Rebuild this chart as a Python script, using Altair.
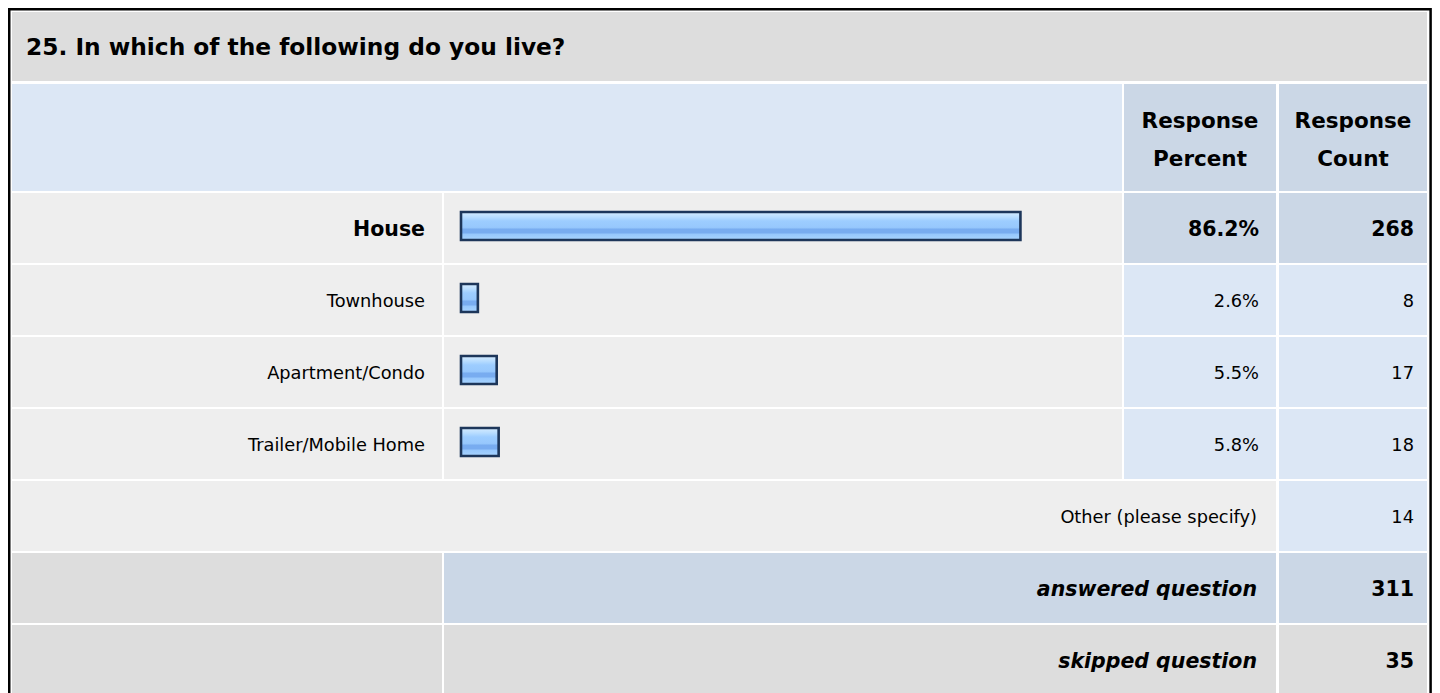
import altair as alt
import pandas as pd

# ---- data ----
question = "25. In which of the following do you live?"
categories = ["House", "Townhouse", "Apartment/Condo", "Trailer/Mobile Home"]
percents = [86.2, 2.6, 5.5, 5.8]
counts = [268, 8, 17, 18]
other_label = "Other (please specify)"
other_count = 14
answered_label = "answered question"
answered_count = 311
skipped_label = "skipped question"
skipped_count = 35
header_cols = [["Response", "Percent"], ["Response", "Count"]]

# ---- layout (screen pixels) ----
W, H = 1424, 685
OX, OY = 8, 8
FONT = "DejaVu Sans"
GRAY, LIGHT, BLUE1, BLUE2 = "#dddddd", "#eeeeee", "#dce7f5", "#cbd7e6"

L = (12, 442)
B = (444, 1122)
P = (1124, 1276)
C = (1279, 1427)
TITLE_ROW = (12, 81)
HEAD_ROW = (84, 191)
ROW0, ROWSTEP, ROWH = 193, 72, 70


def row(i):
    return (ROW0 + i * ROWSTEP, ROW0 + i * ROWSTEP + ROWH)


xs = alt.Scale(domain=[OX, OX + W], range=[0, W], nice=False, zero=False)
ys = alt.Scale(domain=[OY, OY + H], range=[0, H], nice=False, zero=False)

# ---- cells ----
cells = []


def cell(x, y, fill):
    cells.append(dict(x=x[0], x2=x[1], y=y[0], y2=y[1], fill=fill))


cell((L[0], C[1]), TITLE_ROW, GRAY)
cell((L[0], B[1]), HEAD_ROW, BLUE1)
cell(P, HEAD_ROW, BLUE2)
cell(C, HEAD_ROW, BLUE2)
imax = percents.index(max(percents))
for i, cat in enumerate(categories):
    r = row(i)
    cell(L, r, LIGHT)
    cell(B, r, LIGHT)
    hl = BLUE2 if i == imax else BLUE1
    cell(P, r, hl)
    cell(C, r, hl)
n = len(categories)
cell((L[0], P[1]), row(n), LIGHT)
cell(C, row(n), BLUE1)
cell(L, row(n + 1), GRAY)
cell((B[0], P[1]), row(n + 1), BLUE2)
cell(C, row(n + 1), BLUE2)
cell(L, row(n + 2), GRAY)
cell((B[0], P[1]), row(n + 2), GRAY)
cell(C, row(n + 2), GRAY)
cells_df = pd.DataFrame(cells)

cells_layer = alt.Chart(cells_df).mark_rect().encode(
    x=alt.X("x:Q", scale=xs, axis=None),
    x2="x2:Q",
    y=alt.Y("y:Q", scale=ys, axis=None),
    y2="y2:Q",
    fill=alt.Fill("fill:N", scale=None),
)

border_df = pd.DataFrame([dict(x=9.25, x2=1430.6, y=9.25, y2=720)])
border_layer = alt.Chart(border_df).mark_rect(
    fill=None, stroke="#000000", strokeWidth=2.5, clip=True
).encode(
    x=alt.X("x:Q", scale=xs, axis=None),
    x2="x2:Q",
    y=alt.Y("y:Q", scale=ys, axis=None),
    y2="y2:Q",
)

# ---- texts ----
texts = []
TY = 2
texts.append(dict(x=26, y=(TITLE_ROW[0] + TITLE_ROW[1]) / 2 + 1, text=question, st="title"))
for (a, b), col in zip(header_cols, [P, C]):
    cx = (col[0] + col[1]) / 2
    texts.append(dict(x=cx, y=122, text=a, st="header"))
    texts.append(dict(x=cx, y=160, text=b, st="header"))
for i, (cat, p, c) in enumerate(zip(categories, percents, counts)):
    r = row(i)
    cy = (r[0] + r[1]) / 2 + TY
    st = "bold" if i == imax else "normal"
    texts.append(dict(x=425, y=cy, text=cat, st=st))
    texts.append(dict(x=1259, y=cy, text=f"{p:.1f}%", st=st))
    texts.append(dict(x=1414, y=cy, text=str(c), st=st))
r = row(n)
cy = (r[0] + r[1]) / 2 + TY
texts.append(dict(x=1257, y=cy, text=other_label, st="normal"))
texts.append(dict(x=1414, y=cy, text=str(other_count), st="normal"))
for k, (lab, cnt) in enumerate([(answered_label, answered_count), (skipped_label, skipped_count)]):
    r = row(n + 1 + k)
    cy = (r[0] + r[1]) / 2 + TY
    texts.append(dict(x=1257, y=cy, text=lab, st="ital"))
    texts.append(dict(x=1414, y=cy, text=str(cnt), st="bold"))
texts_df = pd.DataFrame(texts)

styles = {
    "title": dict(align="left", fontWeight="bold", fontSize=23.3),
    "header": dict(align="center", fontWeight="bold", fontSize=21.5),
    "normal": dict(align="right", fontWeight="normal", fontSize=17.8),
    "bold": dict(align="right", fontWeight="bold", fontSize=20.5),
    "ital": dict(align="right", fontWeight="bold", fontStyle="italic", fontSize=20.5),
}
text_layers = []
for st, props in styles.items():
    text_layers.append(
        alt.Chart(texts_df)
        .transform_filter(alt.datum.st == st)
        .mark_text(font=FONT, color="#000000", baseline="middle", **props)
        .encode(
            x=alt.X("x:Q", scale=xs, axis=None),
            y=alt.Y("y:Q", scale=ys, axis=None),
            text="text:N",
        )
    )

# ---- bars ----
BAR_X0 = 461
PX_PER_PCT = 6.49
bars_df = pd.DataFrame(
    dict(
        category=categories,
        pct=percents,
        zero=[0] * n,
        top=[row(i)[0] + 19 for i in range(n)],
        bot=[row(i)[0] + 47 for i in range(n)],
    )
)
bscale = alt.Scale(
    domain=[0, 100],
    range=[BAR_X0 - OX, BAR_X0 - OX + 100 * PX_PER_PCT],
    nice=False,
    zero=True,
)
grad = alt.Gradient(
    gradient="linear",
    x1=0, x2=0, y1=0, y2=1,
    stops=[
        alt.GradientStop(offset=0.0, color="#d6ecff"),
        alt.GradientStop(offset=0.18, color="#b8ddff"),
        alt.GradientStop(offset=0.32, color="#9dcdff"),
        alt.GradientStop(offset=0.55, color="#97c8fd"),
        alt.GradientStop(offset=0.62, color="#78acf0"),
        alt.GradientStop(offset=0.74, color="#78acf0"),
        alt.GradientStop(offset=0.80, color="#97c8fd"),
        alt.GradientStop(offset=1.0, color="#a8d4ff"),
    ],
)
bar_enc = dict(
    x=alt.X("zero:Q", scale=bscale, axis=None),
    x2="pct:Q",
    y=alt.Y("top:Q", scale=ys, axis=None),
    y2="bot:Q",
)
shadow_layer = alt.Chart(bars_df).mark_rect(
    fill="#8a96a6", opacity=0.8, xOffset=1.5, yOffset=1.5
).encode(**bar_enc)
bar_layer = alt.Chart(bars_df).mark_rect(
    fill=grad, stroke="#1d365a", strokeWidth=2.6
).encode(**bar_enc)

chart = (
    alt.layer(cells_layer, shadow_layer, bar_layer, *text_layers, border_layer)
    .resolve_scale(x="independent", y="shared")
    .properties(
        width=W,
        height=H,
        padding=0,
        autosize=alt.AutoSizeParams(type="none"),
        background="#ffffff",
    )
    .configure_view(stroke=None, strokeWidth=0)
)

chart.save("out.html", embed_options={"renderer": "svg", "actions": False})
